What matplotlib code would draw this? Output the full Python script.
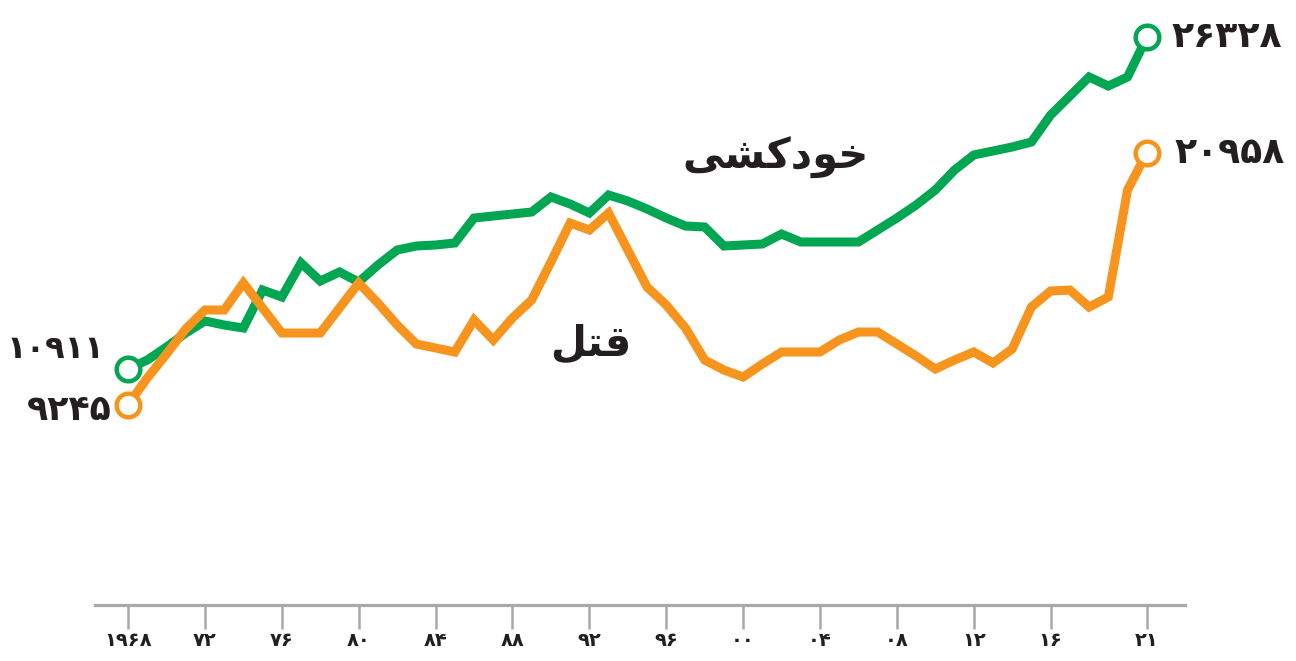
import numpy as np
import matplotlib.pyplot as plt

# data (firearm deaths per year)
years = list(range(1968, 2022))
suicide = [10911, 11327, 11932, 12582, 13141, 12955, 12815, 14582, 14257, 15838,
           15000, 15419, 14954, 15744, 16442, 16628, 16675, 16768, 17930, 18023,
           18116, 18209, 18907, 18581, 18163, 18999, 18720, 18348, 17930, 17558,
           17512, 16628, 16675, 16721, 17186, 16814, 16814, 16814, 16814, 17372,
           17930, 18534, 19232, 20162, 20860, 21046, 21232, 21464, 22720, 23603,
           24487, 24068, 24487, 26328]
homicide = [9245, 10490, 11606, 12768, 13652, 13652, 14908, 13745, 12582, 12582,
            12582, 13745, 14908, 13978, 12955, 12071, 11885, 11699, 13187, 12257,
            13280, 14117, 15884, 17698, 17372, 18163, 16442, 14722, 13885, 12815,
            11327, 10862, 10536, 11141, 11699, 11699, 11699, 12257, 12629, 12629,
            12071, 11513, 10908, 11327, 11699, 11188, 11839, 13791, 14536, 14582,
            13791, 14257, 19232, 20958]

tick_years = [1968, 1972, 1976, 1980, 1984, 1988, 1992, 1996, 2000, 2004, 2008, 2012, 2016, 2021]
tick_labels = ['۱۹۶۸', '۷۲', '۷۶', '۸۰', '۸۴', '۸۸', '۹۲', '۹۶', '۰۰', '۰۴', '۰۸', '۱۲', '۱۶', '۲۱']

# Persian words written in presentation forms, visual (left-to-right) order
label_suicide = '\uFBFD\uFEB8\uFB90\uFEA9\uFEEE\uFEA7'  # خودکشی
label_homicide = '\uFEDE\uFE98\uFED7'  # قتل

green = '#00a651'
orange = '#f7941d'
dark = '#231f20'

plt.rcParams['font.family'] = ['DejaVu Sans']

fig = plt.figure(figsize=(12.96, 6.61), dpi=100)
ax = fig.add_axes([95 / 1296, (661 - 605) / 661, 1090 / 1296, 605 / 661])

ax.plot(years, suicide, color=green, lw=6.5, solid_joinstyle='miter', zorder=2)
ax.plot(years, homicide, color=orange, lw=6.5, solid_joinstyle='miter', zorder=2)

for s, c in [(suicide, green), (homicide, orange)]:
    ax.plot([years[0], years[-1]], [s[0], s[-1]], ls='none', marker='o', ms=17,
            mfc='white', mec=c, mew=3.2, zorder=3)

ax.set_xlim(1966.28, 2022.99)
ax.set_ylim(-65, 28067)

for sp in ['top', 'right', 'left']:
    ax.spines[sp].set_visible(False)
ax.spines['bottom'].set_color('#a7a9ac')
ax.spines['bottom'].set_linewidth(2.3)
ax.set_yticks([])
ax.set_xticks(tick_years)
ax.set_xticklabels(tick_labels, fontsize=14, fontweight='bold', color=dark)
ax.tick_params(axis='x', length=17, width=1.8, color='#a7a9ac', pad=2)

def fa(n):
    return str(n).translate(str.maketrans('0123456789', '۰۱۲۳۴۵۶۷۸۹'))

txt = dict(fontweight='bold', color=dark, va='center')
ax.annotate(fa(suicide[-1]), (years[-1], suicide[-1]), xytext=(18, 0),
            textcoords='offset points', ha='left', fontsize=26, **txt)
ax.annotate(fa(homicide[-1]), (years[-1], homicide[-1]), xytext=(20, 0),
            textcoords='offset points', ha='left', fontsize=26, **txt)
ax.annotate(fa(suicide[0]), (years[0], suicide[0]), xytext=(-17, 14),
            textcoords='offset points', ha='right', fontsize=23, **txt)
ax.annotate(fa(homicide[0]), (years[0], homicide[0]), xytext=(-12, -4),
            textcoords='offset points', ha='right', fontsize=25, **txt)

ax.text(2001.7, 20700, label_suicide, fontsize=30, fontweight='bold', color=dark,
        ha='center', va='center')
ax.text(1992.1, 12100, label_homicide, fontsize=30, fontweight='bold', color=dark,
        ha='center', va='center')

fig.savefig('out.png', dpi=100)
